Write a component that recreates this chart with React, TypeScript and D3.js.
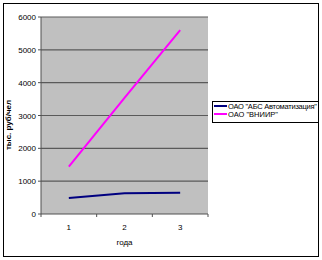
import React from "react";
import * as d3 from "d3";

const categories = ["1", "2", "3"];
const seriesNames = ["ОАО \"АБС Автоматизация\"", "ОАО \"ВНИИР\""];
const seriesABS = [487, 630, 649];
const seriesVNIIR = [1440, 3540, 5600];
const yTicks = [0, 1000, 2000, 3000, 4000, 5000, 6000];
const colors = ["#000080", "#ff00ff"];

export default function App() {
  const W = 322, H = 260;
  const left = 41, right = 208, top = 17, bottom = 214;
  const x = d3.scaleBand<string>().domain(categories).range([left, right]);
  const y = d3.scaleLinear().domain([0, 6000]).range([bottom, top]);
  const line = d3
    .line<number>()
    .x((_, i) => (x(categories[i]) as number) + x.bandwidth() / 2)
    .y((d) => y(d));
  const series = [seriesABS, seriesVNIIR];
  const font = "'Liberation Sans', Arial, sans-serif";
  const bounds = [...categories.map((c) => x(c) as number), right];
  return (
    <svg
      width={W}
      height={H}
      style={{ position: "absolute", left: 0, top: 0 }}
      fontFamily={font}
    >
      <rect x={0} y={0} width={W} height={H} fill="#ffffff" />
      <rect x={3.5} y={3.5} width={315} height={253} fill="none" stroke="#000" strokeWidth={1} />
      <rect x={left} y={top} width={right - left} height={bottom - top} fill="#c0c0c0" />
      {yTicks.map((t) => (
        <g key={t}>
          {t > 0 && (
            <line x1={left} x2={right} y1={y(t)} y2={y(t)} stroke="#5a5a5a" strokeWidth={1.2} />
          )}
          <line x1={left - 3} x2={left} y1={y(t)} y2={y(t)} stroke="#505050" />
          <text x={36} y={y(t) + 3} fontSize={8} textAnchor="end" fill="#000">
            {t}
          </text>
        </g>
      ))}
      <line x1={left} x2={left} y1={top} y2={bottom} stroke="#505050" />
      <line x1={left} x2={right} y1={bottom} y2={bottom} stroke="#505050" />
      {bounds.map((b, i) => (
        <line key={i} x1={b} x2={b} y1={bottom} y2={bottom + 3} stroke="#505050" />
      ))}
      {categories.map((c) => (
        <text
          key={c}
          x={(x(c) as number) + x.bandwidth() / 2}
          y={230}
          fontSize={8}
          textAnchor="middle"
          fill="#000"
        >
          {c}
        </text>
      ))}
      <text x={124.5} y={245} fontSize={8} textAnchor="middle" fill="#000">
        года
      </text>
      <text
        transform={`translate(11,125) rotate(-90)`}
        fontSize={8}
        fontWeight="bold"
        textAnchor="middle"
        fill="#000"
      >
        тыс. руб/чел
      </text>
      {series.map((s, i) => (
        <path key={i} d={line(s) as string} fill="none" stroke={colors[i]} strokeWidth={2} />
      ))}
      <rect x={212.5} y={101.5} width={106} height={21} fill="#fff" stroke="#000" />
      {seriesNames.map((n, i) => (
        <g key={n}>
          <line x1={214} x2={227} y1={106 + i * 8} y2={106 + i * 8} stroke={colors[i]} strokeWidth={2} />
          <text x={228} y={109 + i * 8} fontSize={7.5} fill="#000" textLength={i === 0 ? 89 : undefined}>
            {n}
          </text>
        </g>
      ))}
    </svg>
  );
}
